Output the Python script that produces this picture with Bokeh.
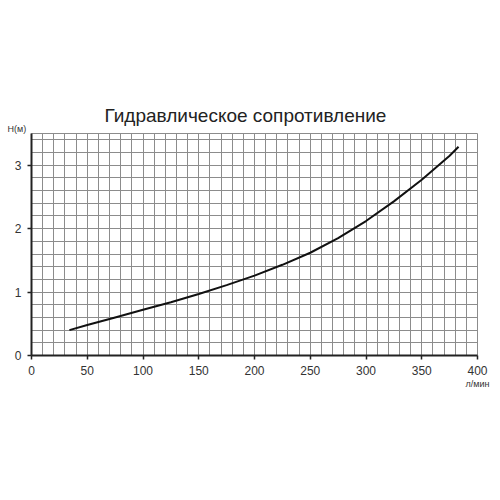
from bokeh.plotting import figure
from bokeh.models import SingleIntervalTicker, FixedTicker, Title, Range1d
from bokeh.embed import file_html
from bokeh.resources import INLINE

title_text = "Гидравлическое сопротивление"
y_label = "Н(м)"
x_label = "л/мин"

flow = [34, 50, 75, 100, 125, 150, 175, 200, 225, 250, 275, 300, 325, 350, 375, 383]
head = [0.40, 0.48, 0.60, 0.72, 0.84, 0.97, 1.11, 1.26, 1.43, 1.62, 1.85, 2.12, 2.43, 2.77, 3.15, 3.29]

x_ticks = [0, 50, 100, 150, 200, 250, 300, 350, 400]
y_ticks = [0, 1, 2, 3]

FONT = "Liberation Sans"

p = figure(width=500, height=500, output_backend="svg", toolbar_location=None,
           x_range=Range1d(0, 400), y_range=Range1d(0, 3.5),
           min_border_left=31, min_border_right=23, min_border_top=133, min_border_bottom=145)

p.title.text = title_text
p.title.text_font = FONT
p.title.text_font_size = "19px"
p.title.text_font_style = "normal"
p.title.text_color = "#222222"
p.title.align = "left"
p.title.offset = 73
p.title.standoff = -8

p.add_layout(Title(text=y_label, align="left", offset=-24, text_font=FONT,
                   text_font_size="9px", text_font_style="normal", text_color="#333333",
                   standoff=0), "above")
p.add_layout(Title(text=x_label, align="right", offset=-12, text_font=FONT,
                   text_font_size="9px", text_font_style="normal", text_color="#333333",
                   standoff=-2), "below")

p.outline_line_color = "#8c8c8c"
p.outline_line_width = 1

p.xgrid.ticker = SingleIntervalTicker(interval=10)
p.ygrid.ticker = SingleIntervalTicker(interval=0.2)
for g in (p.xgrid, p.ygrid):
    g.grid_line_color = "#8c8c8c"
    g.grid_line_width = 1
    g.grid_line_alpha = 1.0

p.xaxis.ticker = FixedTicker(ticks=x_ticks)
p.yaxis.ticker = FixedTicker(ticks=y_ticks)
for ax in (p.xaxis, p.yaxis):
    ax.axis_line_color = "#222222"
    ax.axis_line_width = 2
    ax.major_tick_line_color = "#222222"
    ax.major_tick_line_width = 1.5
    ax.major_tick_out = 4
    ax.major_tick_in = 0
    ax.minor_tick_line_color = None
    ax.major_label_text_font = FONT
    ax.major_label_text_font_size = "12px"
    ax.major_label_text_color = "#333333"
p.xaxis.major_label_standoff = 6
p.yaxis.major_label_standoff = 6

p.line(flow, head, line_color="#111111", line_width=2)

open("out.html", "w").write(file_html(p, INLINE))
